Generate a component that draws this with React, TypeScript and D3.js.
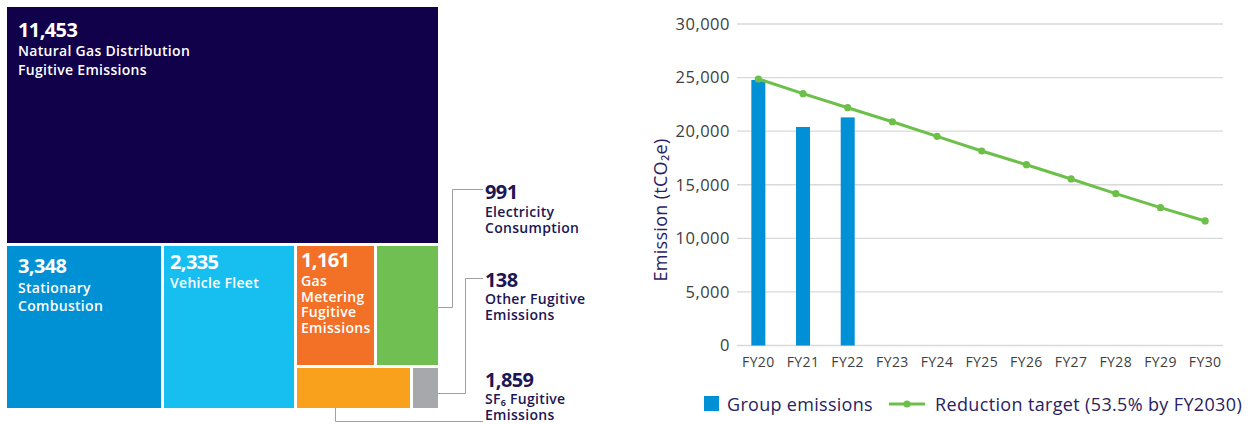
import React from 'react';
import * as d3 from 'd3';

// ---------- Treemap data ----------
const sourceNames = [
  ['Natural Gas Distribution', 'Fugitive Emissions'],
  ['Stationary', 'Combustion'],
  ['Vehicle Fleet'],
  ['Gas', 'Metering', 'Fugitive', 'Emissions'],
  ['Electricity', 'Consumption'],
  ['SF₆ Fugitive', 'Emissions'],
  ['Other Fugitive', 'Emissions'],
];
const sourceValues = [11453, 3348, 2335, 1161, 991, 1859, 138];
// relative tile areas as drawn in the reference treemap
const tileArea = [103726, 25905, 21945, 9760, 7808, 4988, 1204];
const tileColors = ['#11004a', '#0091d5', '#17bff0', '#f37027', '#6fbf53', '#f9a11c', '#a6a8ab'];

// ---------- Bar/line chart data ----------
const years = ['FY20', 'FY21', 'FY22', 'FY23', 'FY24', 'FY25', 'FY26', 'FY27', 'FY28', 'FY29', 'FY30'];
const groupEmissions = [24780, 20390, 21285];
const reductionTarget = [24870, 23500, 22190, 20880, 19520, 18150, 16870, 15540, 14170, 12860, 11620];
const yTicks = [0, 5000, 10000, 15000, 20000, 25000, 30000];

const FONT = "'Open Sans', 'Noto Sans', sans-serif";
const NAVY = '#1c1654';
const TICK = '#404040';
const TITLE = '#2a2262';

// label placement style per tile (inset from tile corner)
const labelInset = [
  { dx: 11, num: 30, first: 19, lh: 18.5 },
  { dx: 11, num: 27, first: 19.7, lh: 18.5 },
  { dx: 6, num: 23.3, first: 19, lh: 18.5 },
  { dx: 4, num: 20.7, first: 19, lh: 15.8 },
];

const callouts = [
  { idx: 4, x: 485, y: 199.3, path: 'M437.5,307.5H452.5V189.5H483' },
  { idx: 6, x: 485, y: 286.7, path: 'M437.5,393.5H465.5V278.5H483' },
  { idx: 5, x: 485, y: 386.7, path: 'M335.5,408V421.5H483' },
];

function LabelBlock({ x, y, value, lines, first, lh, fill }: any) {
  return (
    <text x={x} y={y} fill={fill} fontFamily={FONT}>
      <tspan x={x} fontSize={20} fontWeight={700} letterSpacing={-0.6}>
        {d3.format(',')(value)}
      </tspan>
      {lines.map((s: string, i: number) => (
        <tspan key={i} x={x} dy={i === 0 ? first : lh} fontSize={14} fontWeight={600} letterSpacing={0.3}>
          {s}
        </tspan>
      ))}
    </text>
  );
}

function Treemap() {
  const tree = {
    children: [
      { id: 0 },
      {
        children: [
          { id: 1 },
          { id: 2 },
          {
            children: [
              { children: [{ id: 3 }, { id: 4 }] },
              { children: [{ id: 5 }, { id: 6 }] },
            ],
          },
        ],
      },
    ],
  };
  const root = d3.hierarchy<any>(tree).sum((d: any) => (d.children ? 0 : tileArea[d.id]));
  const layout = d3
    .treemap<any>()
    .size([431, 401])
    .paddingInner(3)
    .round(false)
    .tile((node: any, x0: number, y0: number, x1: number, y1: number) =>
      (node.depth % 2 === 0 ? d3.treemapSlice : d3.treemapDice)(node, x0, y0, x1, y1)
    );
  layout(root);
  const leaves = root.leaves() as any[];

  return (
    <g transform="translate(7,7)">
      {leaves.map((l) => (
        <rect
          key={l.data.id}
          x={l.x0}
          y={l.y0}
          width={l.x1 - l.x0}
          height={l.y1 - l.y0}
          fill={tileColors[l.data.id]}
        />
      ))}
      {leaves
        .filter((l) => l.data.id <= 3)
        .map((l) => {
          const ins = labelInset[l.data.id];
          return (
            <LabelBlock
              key={'t' + l.data.id}
              x={l.x0 + ins.dx}
              y={l.y0 + ins.num}
              value={sourceValues[l.data.id]}
              lines={sourceNames[l.data.id]}
              first={ins.first}
              lh={ins.lh}
              fill="#fff"
            />
          );
        })}
    </g>
  );
}

function Callouts() {
  return (
    <g>
      {callouts.map((c) => (
        <g key={c.idx}>
          <path d={c.path} fill="none" stroke="#a0a0a0" strokeWidth={1} />
          <LabelBlock
            x={c.x}
            y={c.y}
            value={sourceValues[c.idx]}
            lines={sourceNames[c.idx]}
            first={17.5}
            lh={15.7}
            fill={NAVY}
          />
        </g>
      ))}
    </g>
  );
}

function EmissionChart() {
  const x = d3.scaleBand<string>().domain(years).range([736, 1227.5]).paddingInner(0).paddingOuter(0);
  const y = d3.scaleLinear().domain([0, 30000]).range([345.5, 24]);
  const cx = (d: string) => (x(d) as number) + x.bandwidth() / 2;
  const barW = 14;
  const line = d3
    .line<number>()
    .x((_, i) => cx(years[i]))
    .y((v) => y(v));

  return (
    <g fontFamily={FONT}>
      {yTicks.map((t) => (
        <line key={'g' + t} x1={737} x2={1223} y1={y(t)} y2={y(t)} stroke="#d9d9d9" strokeWidth={1.3} />
      ))}
      {yTicks.map((t) => (
        <text key={'l' + t} x={730} y={y(t) + 5.8} textAnchor="end" fontSize={16.5} letterSpacing={0.5} fill={TICK}>
          {d3.format(',')(t)}
        </text>
      ))}
      {years.map((yr) => (
        <text key={yr} x={cx(yr)} y={366.5} textAnchor="middle" fontSize={14} letterSpacing={0.4} fill={TICK}>
          {yr}
        </text>
      ))}
      {groupEmissions.map((v, i) => (
        <rect key={i} x={cx(years[i]) - barW / 2} y={y(v)} width={barW} height={y(0) - y(v)} fill="#0090d6" />
      ))}
      <path d={line(reductionTarget) as string} fill="none" stroke="#6cc04a" strokeWidth={3} />
      {reductionTarget.map((v, i) => (
        <circle key={i} cx={cx(years[i])} cy={y(v)} r={3.6} fill="#6cc04a" />
      ))}
      <text
        transform="translate(667,210) rotate(-90)"
        textAnchor="middle"
        fontSize={18}
        letterSpacing={0.3}
        fill={TITLE}
      >
        Emission (tCO₂e)
      </text>
      {/* legend */}
      <rect x={704} y={396} width={15} height={15} fill="#0090d6" />
      <text x={727} y={410.7} fontSize={18} letterSpacing={0.3} fill={TITLE}>
        Group emissions
      </text>
      <line x1={889} x2={925} y1={404} y2={404} stroke="#6cc04a" strokeWidth={3} />
      <circle cx={907} cy={404} r={3.6} fill="#6cc04a" />
      <text x={935} y={410.7} fontSize={18} letterSpacing={0.35} fill={TITLE}>
        Reduction target (53.5% by FY2030)
      </text>
    </g>
  );
}

export default function App() {
  return (
    <svg
      width={1253}
      height={424}
      style={{ position: 'absolute', left: 0, top: 0, background: '#fff' }}
    >
      <rect width={1253} height={424} fill="#fff" />
      <Treemap />
      <Callouts />
      <EmissionChart />
    </svg>
  );
}
